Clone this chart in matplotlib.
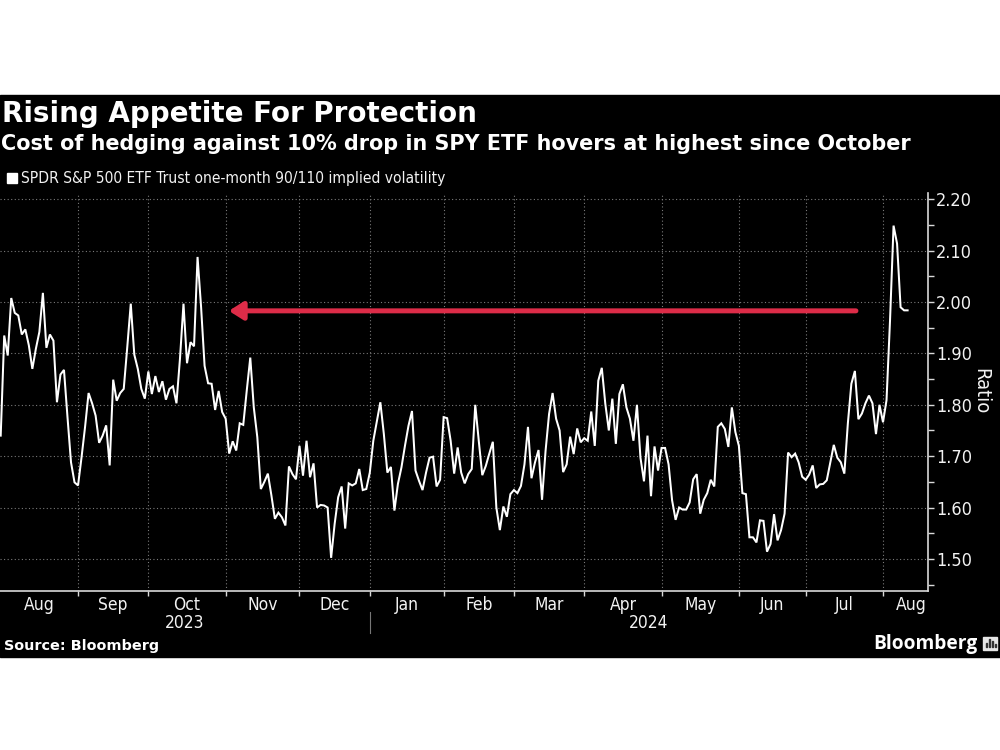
import matplotlib
matplotlib.use('Agg')
import matplotlib.pyplot as plt
from matplotlib.patches import Rectangle

# trading-day series
ratio = [
    1.74, 1.935, 1.896, 2.008, 1.979, 1.974, 1.937, 1.947, 1.916, 1.87,
    1.909, 1.942, 2.018, 1.911, 1.937, 1.925, 1.805, 1.859, 1.868, 1.776,
    1.688, 1.649, 1.643, 1.698, 1.757, 1.823, 1.803, 1.779, 1.726, 1.74,
    1.76, 1.682, 1.849, 1.808, 1.823, 1.831, 1.912, 1.997, 1.898, 1.87,
    1.831, 1.812, 1.865, 1.821, 1.856, 1.825, 1.846, 1.81, 1.831, 1.836,
    1.803, 1.89, 1.997, 1.881, 1.922, 1.914, 2.088, 1.991, 1.876, 1.842,
    1.841, 1.79, 1.827, 1.786, 1.773, 1.705, 1.729, 1.711, 1.764, 1.761,
    1.828, 1.892, 1.795, 1.737, 1.636, 1.65, 1.666, 1.624, 1.578, 1.59,
    1.581, 1.565, 1.68, 1.665, 1.655, 1.72, 1.662, 1.73, 1.659, 1.686,
    1.60, 1.605, 1.604, 1.60, 1.502, 1.568, 1.62, 1.641, 1.559, 1.647,
    1.643, 1.647, 1.675, 1.634, 1.636, 1.668, 1.73, 1.768, 1.805, 1.743,
    1.668, 1.679, 1.594, 1.646, 1.678, 1.72, 1.759, 1.788, 1.672, 1.652,
    1.634, 1.668, 1.697, 1.699, 1.641, 1.654, 1.776, 1.774, 1.73, 1.666,
    1.717, 1.668, 1.647, 1.665, 1.675, 1.80, 1.73, 1.663, 1.681, 1.705,
    1.728, 1.60, 1.556, 1.602, 1.582, 1.626, 1.634, 1.628, 1.642, 1.684,
    1.757, 1.657, 1.688, 1.712, 1.615, 1.71, 1.782, 1.823, 1.773, 1.75,
    1.669, 1.684, 1.738, 1.704, 1.754, 1.727, 1.735, 1.73, 1.787, 1.72,
    1.847, 1.872, 1.802, 1.75, 1.812, 1.724, 1.821, 1.84, 1.795, 1.773,
    1.73, 1.80, 1.697, 1.651, 1.74, 1.622, 1.719, 1.672, 1.716, 1.716,
    1.684, 1.614, 1.576, 1.60, 1.596, 1.596, 1.61, 1.655, 1.665, 1.588,
    1.615, 1.628, 1.654, 1.641, 1.757, 1.764, 1.753, 1.718, 1.795, 1.747,
    1.72, 1.628, 1.626, 1.542, 1.542, 1.532, 1.575, 1.574, 1.514, 1.529,
    1.587, 1.536, 1.556, 1.588, 1.707, 1.698, 1.705, 1.688, 1.66, 1.654,
    1.664, 1.682, 1.638, 1.645, 1.646, 1.653, 1.688, 1.722, 1.697, 1.688,
    1.666, 1.764, 1.841, 1.866, 1.772, 1.783, 1.803, 1.818, 1.803, 1.743,
    1.80, 1.766, 1.809, 1.965, 2.149, 2.114, 1.99, 1.984, 1.984,
]
month_labels = ['Aug', 'Sep', 'Oct', 'Nov', 'Dec', 'Jan', 'Feb', 'Mar', 'Apr',
                'May', 'Jun', 'Jul', 'Aug']
month_starts = [22, 42, 64, 85, 105, 126, 146, 166, 188, 210, 229, 251]
year_labels = ['2023', '2024']
y_ticks = [1.5, 1.6, 1.7, 1.8, 1.9, 2.0, 2.1, 2.2]
y_minor = [1.45, 1.55, 1.65, 1.75, 1.85, 1.95, 2.05, 2.15]
arrow_level = 1.983
arrow_from, arrow_to = 243.3, 64.9

title = 'Rising Appetite For Protection'
subtitle = 'Cost of hedging against 10% drop in SPY ETF hovers at highest since October'
series_name = 'SPDR S&P 500 ETF Trust one-month 90/110 implied volatility'

W, H = 1000, 750
FG = '#f2f2f2'
xlim = (-0.2, 263.8)


def px(x, y):
    # picture pixels, origin top left, to figure fractions
    return x / W, 1 - y / H


fig = plt.figure(figsize=(10, 7.5), dpi=100, facecolor='white')
fig.add_artist(Rectangle(px(0, 657), 1, 562 / H, transform=fig.transFigure,
                         color='black', zorder=-5))

left, bottom = px(0, 590.7)
ax = fig.add_axes([left, bottom, 928 / W, (590.7 - 192.5) / H])
ax.set_facecolor('black')
ax.set_xlim(*xlim)
ax.set_ylim(1.438, 2.2135)

ax.grid(True, which='major', color='#7a7a7a', lw=0.8, ls=(0, (1, 2.2)))
ax.set_axisbelow(True)
ax.plot(range(len(ratio)), ratio, color='white', lw=1.45, zorder=3,
        solid_joinstyle='miter')

ax.annotate('', xy=(arrow_to, arrow_level), xytext=(arrow_from, arrow_level),
            arrowprops=dict(arrowstyle='-|>,head_length=0.6,head_width=0.38',
                            mutation_scale=14, color='#dd2c48', lw=3.6,
                            shrinkA=0, shrinkB=0),
            zorder=4)

for side in ['top', 'left']:
    ax.spines[side].set_visible(False)
for side in ['right', 'bottom']:
    ax.spines[side].set_color('#d9d9d9')
    ax.spines[side].set_linewidth(1.2)

ax.yaxis.tick_right()
ax.yaxis.set_label_position('right')
ax.set_yticks(y_ticks)
ax.set_yticklabels([f'{v:.2f}' for v in y_ticks], stretch='condensed')
ax.set_yticks(y_minor, minor=True)
ax.tick_params(axis='y', which='major', length=4, width=1, color='#d9d9d9',
               labelcolor=FG, labelsize=13, pad=2)
ax.tick_params(axis='y', which='minor', length=4, width=1, color='#d9d9d9')
ax.set_ylabel('Ratio', color=FG, fontsize=14.5, rotation=270, labelpad=13,
              stretch='condensed')

edges = [xlim[0]] + month_starts + [267]
mids = [(a + b) / 2 for a, b in zip(edges[:-1], edges[1:])]
ax.set_xticks(month_starts)
ax.set_xticklabels([])
ax.set_xticks(mids, minor=True)
ax.set_xticklabels(month_labels, minor=True, stretch='condensed')
ax.tick_params(axis='x', which='major', length=3.5, width=1, color='#d9d9d9')
ax.tick_params(axis='x', which='minor', length=0, labelcolor=FG, labelsize=12.5, pad=4)

# year row under the months, split at January
year_split = month_starts[4]
year_mids = [(xlim[0] + year_split) / 2, (year_split + xlim[1]) / 2]
for m, lab in zip(year_mids, year_labels):
    ax.annotate(lab, xy=(m, 0), xycoords=('data', 'axes fraction'),
                xytext=(0, -23.5), textcoords='offset points', ha='center',
                va='center', color=FG, fontsize=12.5, stretch='condensed')
ax.plot([year_split, year_split], [-0.054, -0.107], color='#777777', lw=0.8,
        transform=ax.get_xaxis_transform(), clip_on=False)

x0, y0 = px(2, 114)
fig.text(x0, y0, title, color='white', fontsize=20, fontweight='bold', va='center')
x0, y0 = px(1, 144)
fig.text(x0, y0, subtitle, color='white', fontsize=14.97, fontweight='bold', va='center')

fig.add_artist(Rectangle(px(7, 183), 10 / W, 10 / H, transform=fig.transFigure,
                         color='white'))
x0, y0 = px(21, 178)
fig.text(x0, y0, series_name, color=FG, fontsize=11.15, va='center', stretch='condensed')

x0, y0 = px(4, 646)
fig.text(x0, y0, 'Source: Bloomberg', color='white', fontsize=10.4,
         fontweight='bold', va='center')
x0, y0 = px(873, 644)
fig.text(x0, y0, 'Bloomberg', color='white', fontsize=13.8, family='Open Sans',
         fontweight='bold', va='center')

# small logo badge
fig.add_artist(Rectangle(px(983, 650), 14 / W, 13 / H, transform=fig.transFigure,
                         color='#e6e6e6'))
for bx, bh in zip([986, 989, 992, 994.5], [4, 8, 6, 3]):
    fig.add_artist(Rectangle(px(bx, 647), 1.4 / W, bh / H, transform=fig.transFigure,
                             color='#333333'))

fig.savefig('out.png', dpi=100, facecolor='white')
